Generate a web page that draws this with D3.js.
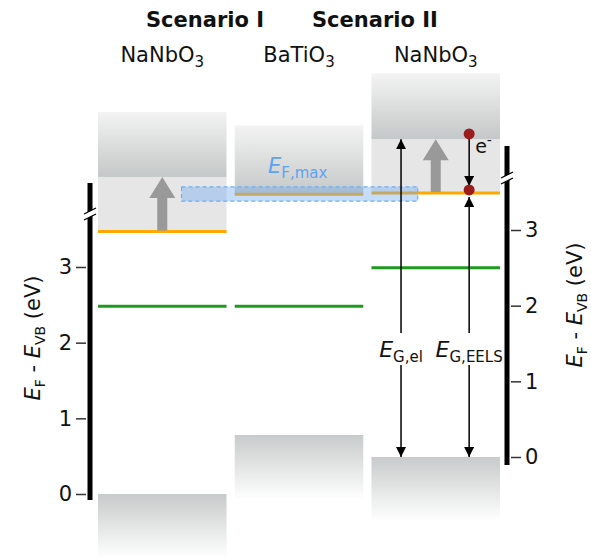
<!DOCTYPE html>
<html>
<head>
<meta charset="utf-8">
<script src="https://d3js.org/d3.v7.min.js"></script>
<style>
  body { margin: 0; background: #fff; }
  svg { display: block; font-family: 'DejaVu Sans', Verdana, sans-serif; }
</style>
</head>
<body>
<div id="holder"></div>
<script>
  // Data (eV, relative to the valence band of each scenario)
  const columns = ['NaNbO3 I', 'BaTiO3', 'NaNbO3 II'];
  const colLabels = [['NaNbO', '3'], ['BaTiO', '3'], ['NaNbO', '3']];
  const colAxis = ['left', 'left', 'right'];
  const cbTop = [5.05, 4.87, 5.07];
  const cbBottom = [4.19, 3.96, 4.2];
  const fermi = [3.47, 3.96, 3.49];
  const defectLevel = [2.48, 2.48, 2.5];
  const vbTop = [0, 0.78, 0];
  const bandDepth = 0.85;
  const ticks = [0, 1, 2, 3];
  const efMax = [3.87, 4.06];
  const scenarios = ['Scenario I', 'Scenario II'];

  // Variables
  const w = 591;
  const h = 558;

  const x = d3.scaleBand().domain(columns).range([98, 500]).paddingInner(0.06);
  const yLeft = d3.scaleLinear().domain([0, 3]).range([494, 267]);
  const yRight = d3.scaleLinear().domain([0, 3]).range([457, 230]);
  const yOf = (i) => (colAxis[i] === 'left' ? yLeft : yRight);
  const bw = x.bandwidth();

  const svg = d3.select('#holder').append('svg').attr('width', w).attr('height', h);

  const defs = svg.append('defs');
  const cbGrad = defs.append('linearGradient').attr('id', 'cb').attr('x1', 0).attr('y1', 0).attr('x2', 0).attr('y2', 1);
  cbGrad.append('stop').attr('offset', '0%').attr('stop-color', '#f3f3f3');
  cbGrad.append('stop').attr('offset', '100%').attr('stop-color', '#c5c8c8');
  const vbGrad = defs.append('linearGradient').attr('id', 'vb').attr('x1', 0).attr('y1', 0).attr('x2', 0).attr('y2', 1);
  vbGrad.append('stop').attr('offset', '0%').attr('stop-color', '#c8cbcb');
  vbGrad.append('stop').attr('offset', '100%').attr('stop-color', '#ffffff');
  defs.append('marker').attr('id', 'head').attr('viewBox', '0 0 10 10').attr('refX', 10).attr('refY', 5)
    .attr('markerWidth', 10).attr('markerHeight', 10).attr('markerUnits', 'userSpaceOnUse').attr('orient', 'auto-start-reverse')
    .append('path').attr('d', 'M0,0 L10,5 L0,10 z').attr('fill', '#000');

  const idx = d3.range(columns.length);

  // light gray gap between CB and Fermi level
  svg.selectAll('.gap').data(idx.filter((i) => fermi[i] < cbBottom[i])).enter().append('rect')
    .attr('x', (i) => x(columns[i])).attr('width', bw)
    .attr('y', (i) => yOf(i)(cbBottom[i]))
    .attr('height', (i) => yOf(i)(fermi[i]) - yOf(i)(cbBottom[i]))
    .attr('fill', '#e6e6e6');

  // conduction bands
  svg.selectAll('.cb').data(idx).enter().append('rect')
    .attr('x', (i) => x(columns[i])).attr('width', bw)
    .attr('y', (i) => yOf(i)(cbTop[i]))
    .attr('height', (i) => yOf(i)(cbBottom[i]) - yOf(i)(cbTop[i]))
    .attr('fill', 'url(#cb)');

  // valence bands
  svg.selectAll('.vb').data(idx).enter().append('rect')
    .attr('x', (i) => x(columns[i])).attr('width', bw)
    .attr('y', (i) => yOf(i)(vbTop[i]))
    .attr('height', (i) => yOf(i)(vbTop[i] - bandDepth) - yOf(i)(vbTop[i]))
    .attr('fill', 'url(#vb)');

  // defect level and Fermi level
  svg.selectAll('.lvl').data(idx).enter().append('line')
    .attr('x1', (i) => x(columns[i])).attr('x2', (i) => x(columns[i]) + bw)
    .attr('y1', (i) => yOf(i)(defectLevel[i])).attr('y2', (i) => yOf(i)(defectLevel[i]))
    .attr('stroke', '#1f9a1f').attr('stroke-width', 3);
  svg.selectAll('.ef').data(idx).enter().append('line')
    .attr('x1', (i) => x(columns[i])).attr('x2', (i) => x(columns[i]) + bw)
    .attr('y1', (i) => yOf(i)(fermi[i])).attr('y2', (i) => yOf(i)(fermi[i]))
    .attr('stroke', '#ffa800').attr('stroke-width', 3);

  // gray shift arrows
  idx.filter((i) => fermi[i] < cbBottom[i]).forEach((i) => {
    const cx = x(columns[i]) + bw / 2;
    const y0 = yOf(i)(fermi[i]) - 1;
    const y1 = yOf(i)(cbBottom[i]);
    svg.append('path')
      .attr('d', `M${cx - 5},${y0} L${cx - 5},${y1 + 21} L${cx - 13},${y1 + 21} L${cx},${y1} L${cx + 13},${y1 + 21} L${cx + 5},${y1 + 21} L${cx + 5},${y0} Z`)
      .attr('fill', '#999');
  });

  // E_F,max box
  const boxX0 = x(columns[0]) + bw * 0.65;
  const boxX1 = x(columns[2]) + bw * 0.36;
  svg.append('rect')
    .attr('x', boxX0).attr('width', boxX1 - boxX0)
    .attr('y', yLeft(efMax[1])).attr('height', yLeft(efMax[0]) - yLeft(efMax[1]))
    .attr('fill', 'rgba(110,170,240,0.4)').attr('stroke', '#6aaef5')
    .attr('stroke-width', 1.2).attr('stroke-dasharray', '4,3');
  const efText = svg.append('text').attr('x', 268).attr('y', 173).attr('fill', '#5ea3f2').attr('font-size', 21);
  efText.append('tspan').attr('font-style', 'italic').text('E');
  efText.append('tspan').attr('font-size', 15).attr('dy', 5).text('F,max');

  // gap arrows in scenario II
  const r = yRight;
  const xEl = x(columns[2]) + bw * 0.23;
  const xEels = x(columns[2]) + bw * 0.76;
  const labelTop = 333, labelBot = 365;
  function arrow(xp, ya, yb, headStart, headEnd) {
    const l = svg.append('line').attr('x1', xp).attr('x2', xp).attr('y1', ya).attr('y2', yb)
      .attr('stroke', '#000').attr('stroke-width', 1.5);
    if (headStart) l.attr('marker-start', 'url(#head)');
    if (headEnd) l.attr('marker-end', 'url(#head)');
  }
  arrow(xEl, r(cbBottom[2]), labelTop, true, false);
  arrow(xEl, labelBot, r(vbTop[2]), false, true);
  arrow(xEels, r(fermi[2]) + 4, labelTop, true, false);
  arrow(xEels, labelBot, r(vbTop[2]), false, true);
  arrow(xEels, r(cbBottom[2]) - 5, r(fermi[2]) - 7, false, true);

  function gapLabel(xp, sub) {
    const t = svg.append('text').attr('x', xp).attr('y', 357).attr('text-anchor', 'middle').attr('font-size', 22).attr('fill', '#111');
    t.append('tspan').attr('font-style', 'italic').text('E');
    t.append('tspan').attr('font-size', 15).attr('dy', 5).text(sub);
  }
  gapLabel(xEl, 'G,el');
  gapLabel(xEels, 'G,EELS');

  // electrons
  svg.selectAll('.el').data([cbBottom[2] + 0.07, fermi[2] + 0.04]).enter().append('circle')
    .attr('cx', xEels).attr('cy', (d) => r(d)).attr('r', 5.5).attr('fill', '#9b1c1c');
  const eText = svg.append('text').attr('x', xEels + 6).attr('y', 153).attr('font-size', 19).attr('fill', '#111');
  eText.append('tspan').text('e');
  eText.append('tspan').attr('font-size', 14).attr('dy', -8).text('-');

  // Axes
  function drawAxis(scale, xp, yTop, yBot, side, yBreak) {
    const g = svg.append('g');
    g.append('line').attr('x1', xp).attr('x2', xp).attr('y1', yTop).attr('y2', yBot)
      .attr('stroke', '#000').attr('stroke-width', 5);
    const ax = side === 'left' ? d3.axisLeft(scale) : d3.axisRight(scale);
    const ga = svg.append('g')
      .attr('transform', `translate(${side === 'left' ? xp - 4 : xp + 4},0)`)
      .call(ax.tickValues(ticks).tickSize(10).tickPadding(4).tickFormat(d3.format('d')));
    ga.select('.domain').remove();
    ga.selectAll('line').attr('stroke', '#333').attr('stroke-width', 1.5);
    ga.selectAll('text').attr('font-size', 21).attr('fill', '#111')
      .attr('font-family', "'DejaVu Sans', Verdana, sans-serif");
    // axis break
    g.append('path').attr('d', `M${xp - 6},${yBreak + 2} L${xp + 6},${yBreak - 4} L${xp + 6},${yBreak + 2} L${xp - 6},${yBreak + 8} Z`)
      .attr('fill', '#fff');
    g.append('path').attr('d', `M${xp - 6},${yBreak + 2} L${xp + 6},${yBreak - 4} M${xp - 6},${yBreak + 8} L${xp + 6},${yBreak + 2}`)
      .attr('stroke', '#000').attr('stroke-width', 1.3);
  }
  drawAxis(yLeft, 90, 183, 500, 'left', 212);
  drawAxis(yRight, 507, 146, 465, 'right', 176);

  function axisLabel(xp, yp) {
    const t = svg.append('text').attr('transform', `translate(${xp},${yp}) rotate(-90)`)
      .attr('text-anchor', 'middle').attr('font-size', 21).attr('fill', '#111');
    t.append('tspan').attr('font-style', 'italic').text('E');
    t.append('tspan').attr('font-size', 14).attr('dy', 5).text('F');
    t.append('tspan').attr('dy', -5).text(' - ');
    t.append('tspan').attr('font-style', 'italic').text('E');
    t.append('tspan').attr('font-size', 14).attr('dy', 5).text('VB');
    t.append('tspan').attr('dy', -5).text(' (eV)');
  }
  axisLabel(40, 338);
  axisLabel(582, 305);

  // Titles
  svg.selectAll('.title').data(scenarios).enter().append('text')
    .attr('x', (d, i) => [146, 312][i]).attr('y', 27)
    .attr('font-size', 21).attr('font-weight', 'bold').attr('fill', '#111').text((d) => d);

  const lab = svg.selectAll('.col').data(idx).enter().append('text')
    .attr('x', (i) => x(columns[i]) + bw / 2).attr('y', 62).attr('text-anchor', 'middle')
    .attr('font-size', 21).attr('fill', '#111');
  lab.append('tspan').text((i) => colLabels[i][0]);
  lab.append('tspan').attr('font-size', 15).attr('dy', 5).text((i) => colLabels[i][1]);
</script>
</body>
</html>
